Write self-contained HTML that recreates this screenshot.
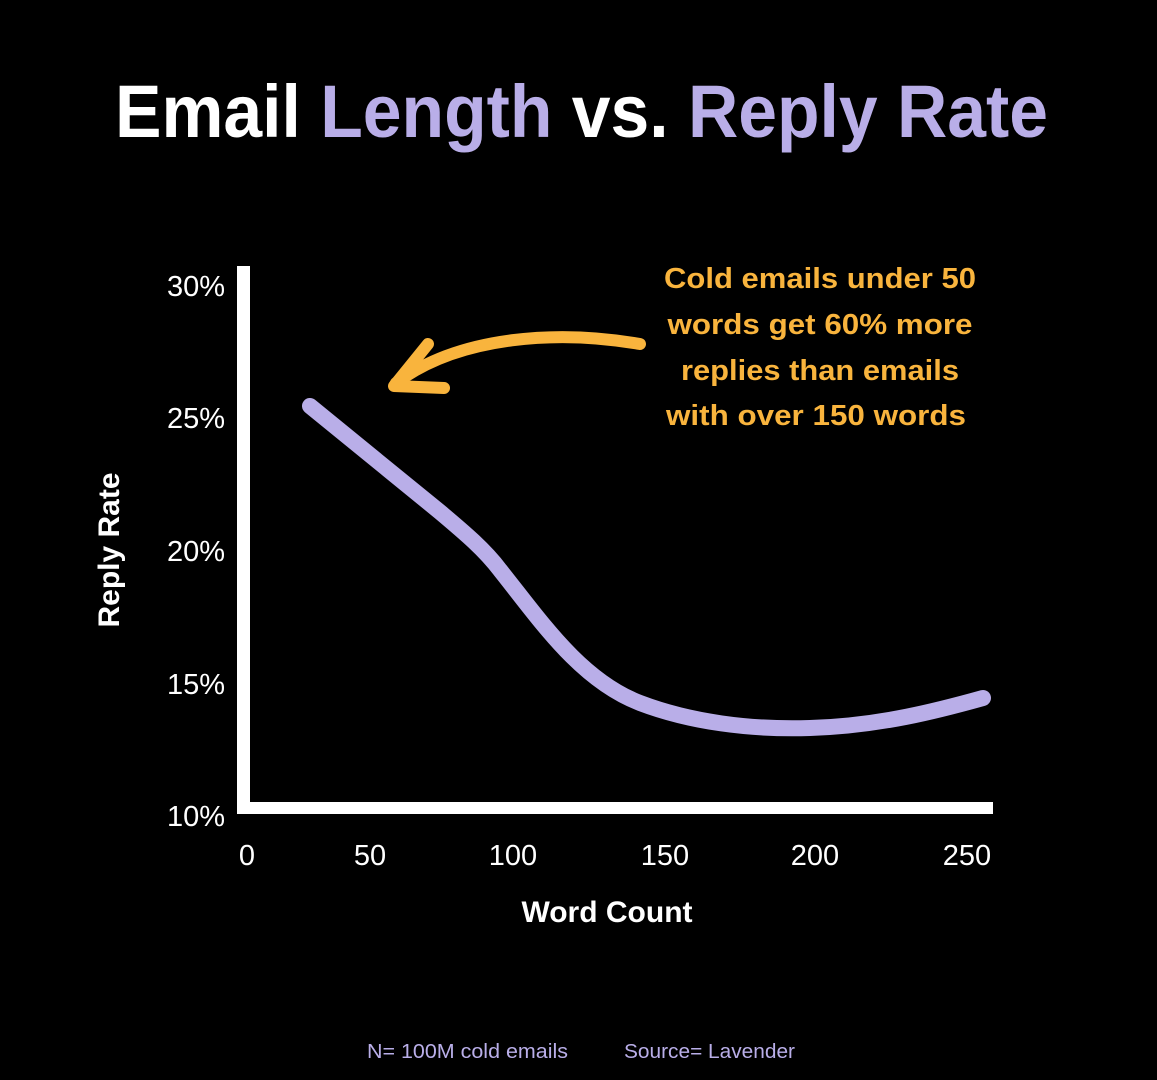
<!DOCTYPE html>
<html><head><meta charset="utf-8"><style>
html,body{margin:0;padding:0;background:#000;}
svg{display:block}
</style></head><body>
<svg width="1157" height="1080" viewBox="0 0 1157 1080" xmlns="http://www.w3.org/2000/svg">
<rect width="1157" height="1080" fill="#000"/>
<text x="115" y="137" font-family="Liberation Sans, sans-serif" font-weight="bold" font-size="74" textLength="933" lengthAdjust="spacingAndGlyphs"><tspan fill="#fff">Email </tspan><tspan fill="#b9aee8">Length </tspan><tspan fill="#fff">vs. </tspan><tspan fill="#b9aee8">Reply Rate</tspan></text>
<rect x="237" y="266" width="13" height="548" fill="#fff"/>
<rect x="237" y="802" width="756" height="12" fill="#fff"/>
<g font-family="Liberation Sans, sans-serif" font-size="29" fill="#fff" text-anchor="end">
<text x="225" y="296">30%</text>
<text x="225" y="428">25%</text>
<text x="225" y="561">20%</text>
<text x="225" y="694">15%</text>
<text x="225" y="826">10%</text>
</g>
<g font-family="Liberation Sans, sans-serif" font-size="29" fill="#fff" text-anchor="middle">
<text x="247" y="865">0</text>
<text x="370" y="865">50</text>
<text x="513" y="865">100</text>
<text x="665" y="865">150</text>
<text x="815" y="865">200</text>
<text x="967" y="865">250</text>
</g>
<text x="607" y="922" font-family="Liberation Sans, sans-serif" font-weight="bold" font-size="30" fill="#fff" text-anchor="middle">Word Count</text>
<text transform="translate(119,550) rotate(-90)" font-family="Liberation Sans, sans-serif" font-weight="bold" font-size="30" fill="#fff" text-anchor="middle">Reply Rate</text>
<path d="M310,406 L440,512 C465,533 485,550 500,570 C540,620 580,680 640,703 C690,722 750,730 810,728 C880,726 940,710 983,698" fill="none" stroke="#b9aee8" stroke-width="16" stroke-linecap="round" stroke-linejoin="round"/>
<g fill="none" stroke="#f9b43d" stroke-width="12" stroke-linecap="round" stroke-linejoin="round">
<path d="M640,344 C560,330 460,335 396,383"/>
<path d="M428,344 L394,386 L444,388"/>
</g>
<g font-family="Liberation Sans, sans-serif" font-weight="bold" font-size="29" fill="#f9b43d" text-anchor="middle">
<text x="820" y="288" textLength="312" lengthAdjust="spacingAndGlyphs">Cold emails under 50</text>
<text x="820" y="334" textLength="305" lengthAdjust="spacingAndGlyphs">words get 60% more</text>
<text x="820" y="380" textLength="278" lengthAdjust="spacingAndGlyphs">replies than emails</text>
<text x="816" y="425" textLength="300" lengthAdjust="spacingAndGlyphs">with over 150 words</text>
</g>
<g font-family="Liberation Sans, sans-serif" font-size="20.5" fill="#b9aee8">
<text x="367" y="1058" textLength="201" lengthAdjust="spacingAndGlyphs">N= 100M cold emails</text>
<text x="624" y="1058" textLength="171" lengthAdjust="spacingAndGlyphs">Source= Lavender</text>
</g>
</svg>
</body></html>
